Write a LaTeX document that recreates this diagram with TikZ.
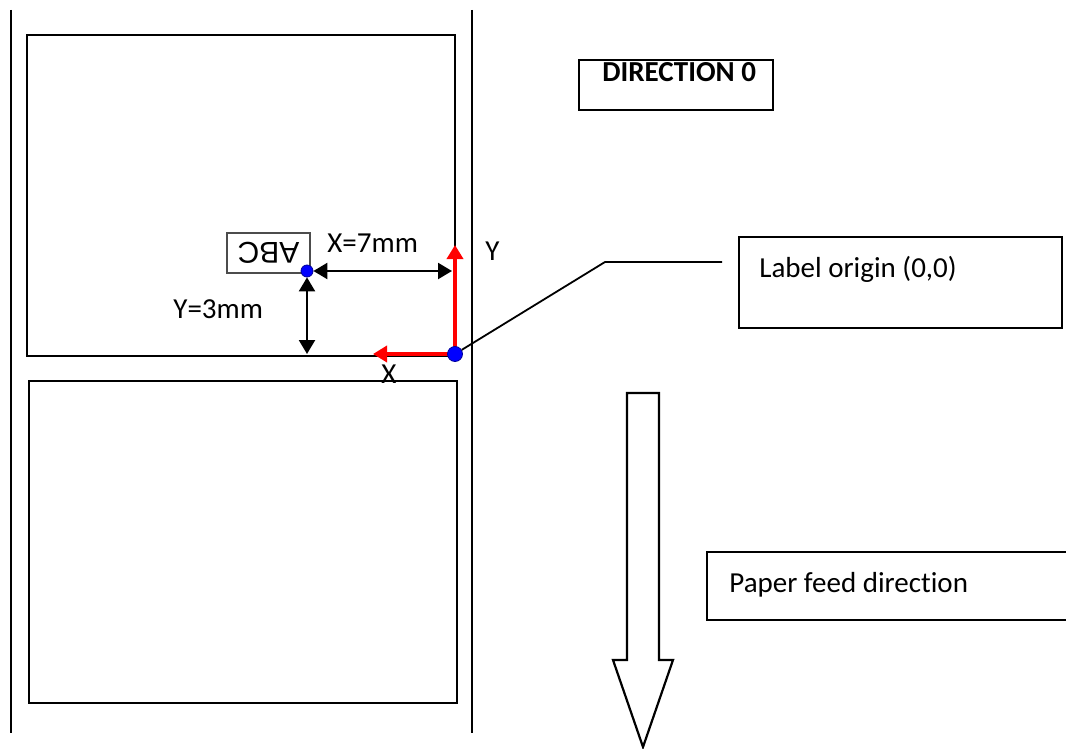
\documentclass[tikz,border=0pt]{standalone}
\usepackage{fontspec}
\setmainfont{Carlito}[RawFeature=-liga]
\newfontfamily\abcfont{Liberation Sans}
\usetikzlibrary{arrows.meta}

\begin{document}
\begin{tikzpicture}[x=0.5pt,y=-0.5pt,>=Latex,
  lbl/.style={font=\fontsize{14.5}{17}\selectfont, inner sep=0pt, anchor=base west},
  dot/.style={circle, fill=blue, draw=blue!60!black, line width=0.4pt, inner sep=0pt, minimum size=6pt},
  dimarrow/.style={{Triangle[length=7pt,width=8pt]}-{Triangle[length=7pt,width=8pt]}, line width=1.1pt},
  axisarrow/.style={-{Triangle[length=7pt,width=8pt]}, red, line width=1.8pt}]
\useasboundingbox (0,0) rectangle (1066,749);
% liner edges
\draw[line width=1.1pt] (11,10) -- (11,733);
\draw[line width=1.1pt] (472,10) -- (472,733);
% two labels
\draw[line width=1.1pt] (27,35) rectangle (455,356);
\draw[line width=1.1pt] (29,381) rectangle (457,703);
% printed text, upside down
\node[draw=black!70, line width=0.9pt, rotate=180, inner sep=0pt,
  minimum width=41.5pt, minimum height=20pt, font=\abcfont\fontsize{15}{18}\selectfont] (abc) at (268.5,253) {ABC};
% label axes
\coordinate (org) at (455,354);
\coordinate (ytip) at (455,245);
\coordinate (xtip) at (373,354);
\draw[axisarrow] (org) -- (ytip);
\draw[axisarrow] (org) -- (xtip);
\node[dot, minimum size=7.5pt] (orgdot) at (org) {};
\node[dot] (abcpt) at (307,271) {};
% offsets
\coordinate (xend) at (452,271);
\coordinate (yend) at (307,354);
\draw[dimarrow] (abcpt) -- (xend);
\draw[dimarrow] (abcpt) -- (yend);
\node[lbl] (xoff) at (327,252) {X=7mm};
\node[lbl] (yoff) at (173,318) {Y=3mm};
\node[lbl] (ylbl) at (485,260) {Y};
\node[lbl] (xlbl) at (381,383) {X};
% origin callout
\coordinate (bend) at (605,262);
\coordinate (leadend) at (722,262);
\draw[line width=0.9pt] (orgdot) -- (bend) -- (leadend);
\draw[line width=1.1pt] (739,237) rectangle (1062,328);
\node[lbl] (origintext) at (759,278) {Label origin (0,0)};
% direction title
\draw[line width=1.1pt] (579,60) rectangle (773,110);
\node[lbl, font=\fontsize{14.5}{17}\selectfont\bfseries] (dirtext) at (602,82) {DIRECTION 0};
% feed arrow
\draw[line width=1.1pt] (627,393) -- (659,393) -- (659,660) -- (673,660) -- (643,747)
  -- (613,660) -- (627,660) -- cycle;
\draw[line width=1.1pt] (1066,552) -- (707,552) -- (707,620) -- (1066,620);
\node[lbl] (feedtext) at (729,592) {Paper feed direction};
\end{tikzpicture}
\end{document}
